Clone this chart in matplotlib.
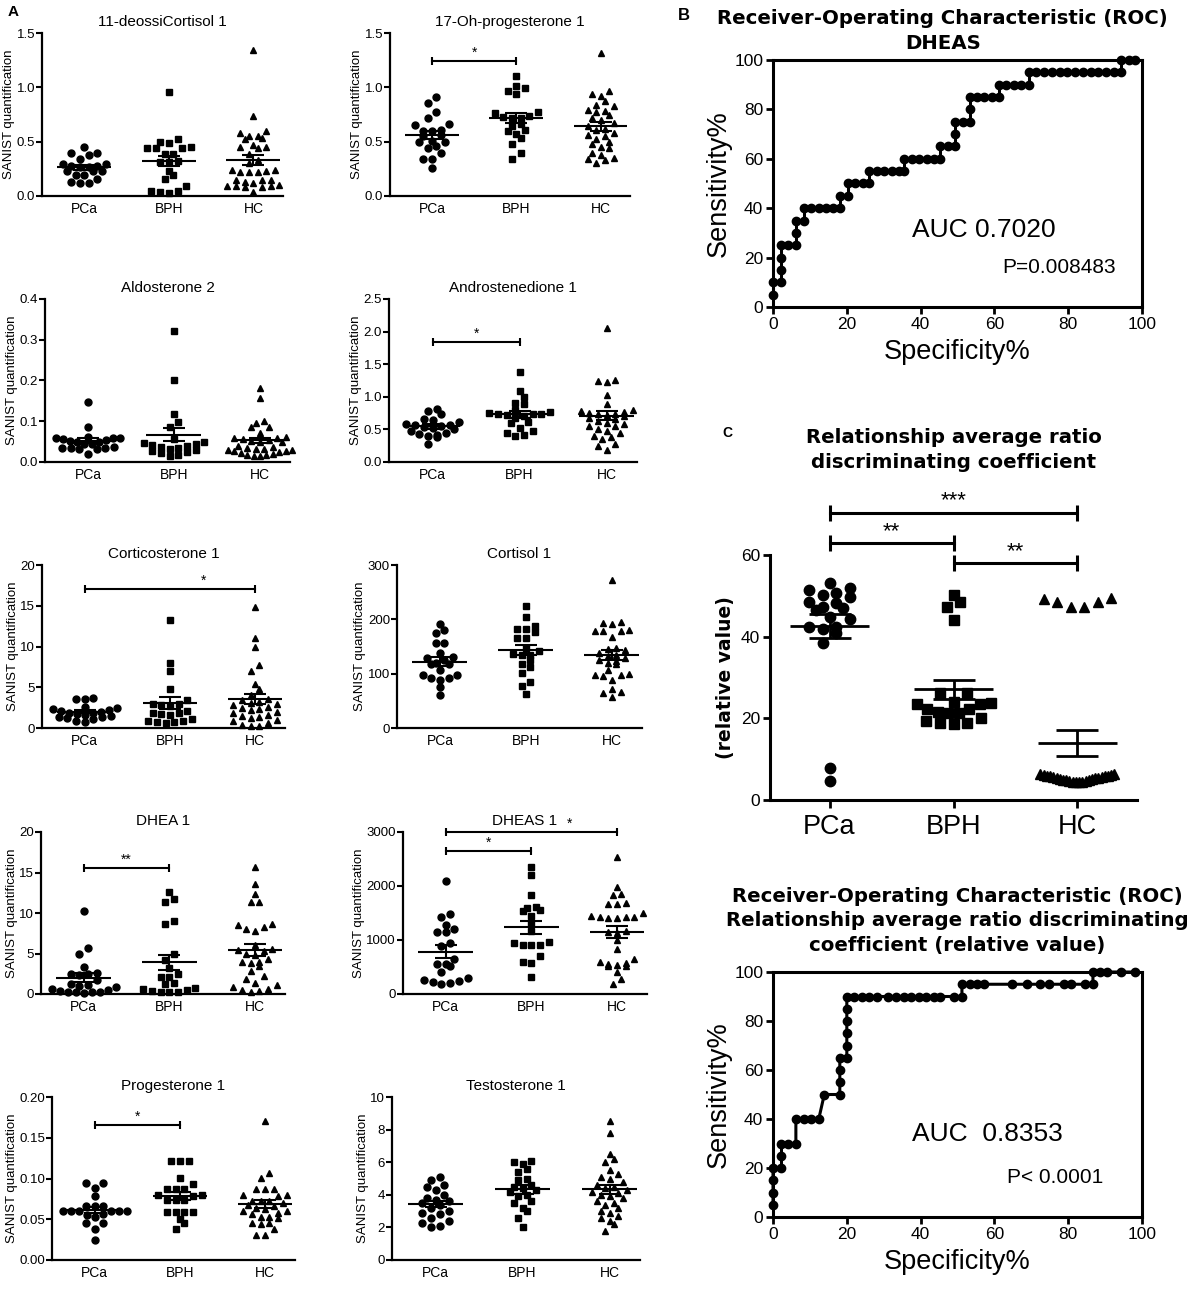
"""Steroid dot plots with ROC curves."""
import numpy as np
import matplotlib
matplotlib.use('Agg')
import matplotlib.pyplot as plt

plt.rcParams['font.family'] = ['Liberation Sans', 'DejaVu Sans']

W, H = 1199, 1290
groups = ['PCa', 'BPH', 'HC']
markers = ['o', 's', '^']

# ---- panel A values ----
deossi_pca = [0.45, 0.40, 0.40, 0.38, 0.34, 0.29, 0.28, 0.27, 0.27, 0.28, 0.29, 0.23, 0.23, 0.23, 0.19, 0.19, 0.16, 0.12, 0.12, 0.13]
deossi_bph = [0.96, 0.52, 0.50, 0.49, 0.45, 0.44, 0.44, 0.44, 0.39, 0.39, 0.32, 0.31, 0.31, 0.23, 0.19, 0.16, 0.09, 0.05, 0.05, 0.04, 0.03]
deossi_hc = [1.34, 0.74, 0.60, 0.58, 0.55, 0.55, 0.53, 0.52, 0.47, 0.45, 0.45, 0.44, 0.39, 0.33, 0.30, 0.24, 0.24, 0.23,
             0.22, 0.22, 0.22, 0.15, 0.15, 0.15, 0.13, 0.12, 0.10, 0.09, 0.09, 0.09, 0.08, 0.08, 0.04]

ohp_pca = [0.91, 0.86, 0.77, 0.72, 0.66, 0.65, 0.61, 0.60, 0.60, 0.56, 0.55, 0.51, 0.50, 0.50, 0.46, 0.44, 0.40, 0.34, 0.34, 0.26]
ohp_bph = [1.10, 1.01, 0.99, 0.97, 0.94, 0.77, 0.76, 0.74, 0.73, 0.72, 0.72, 0.66, 0.64, 0.61, 0.60, 0.57, 0.53, 0.48, 0.40, 0.34]
ohp_hc = [1.32, 0.97, 0.94, 0.92, 0.87, 0.84, 0.83, 0.79, 0.78, 0.77, 0.75, 0.72, 0.70, 0.67, 0.64, 0.62, 0.61, 0.58,
          0.56, 0.55, 0.52, 0.50, 0.48, 0.45, 0.44, 0.40, 0.38, 0.35, 0.34, 0.33, 0.30]

aldo_pca = [0.147, 0.086, 0.060, 0.058, 0.058, 0.062, 0.057, 0.055, 0.052, 0.050, 0.048, 0.045, 0.043, 0.036, 0.035,
            0.034, 0.034, 0.033, 0.032, 0.020]
aldo_bph = [0.322, 0.202, 0.117, 0.098, 0.086, 0.056, 0.050, 0.047, 0.045, 0.042, 0.040, 0.037, 0.035, 0.033, 0.030,
            0.028, 0.025, 0.022, 0.018, 0.015]
aldo_hc = [0.181, 0.158, 0.101, 0.095, 0.087, 0.085, 0.072, 0.062, 0.060, 0.058, 0.056, 0.054, 0.052, 0.050, 0.048,
           0.040, 0.036, 0.034, 0.033, 0.032, 0.030, 0.029, 0.028, 0.026, 0.024, 0.022, 0.020, 0.018, 0.016, 0.015, 0.014]

andro_pca = [0.82, 0.78, 0.73, 0.66, 0.65, 0.61, 0.58, 0.57, 0.56, 0.55, 0.53, 0.52, 0.50, 0.48, 0.45, 0.43, 0.41, 0.40, 0.38, 0.28]
andro_bph = [1.38, 1.09, 1.00, 0.91, 0.89, 0.80, 0.76, 0.75, 0.74, 0.74, 0.73, 0.72, 0.70, 0.68, 0.62, 0.60, 0.52,
             0.47, 0.45, 0.42, 0.40]
andro_hc = [2.06, 1.26, 1.24, 1.22, 1.02, 0.89, 0.80, 0.78, 0.77, 0.75, 0.74, 0.73, 0.72, 0.70, 0.68, 0.66, 0.63, 0.60,
            0.58, 0.55, 0.55, 0.50, 0.48, 0.45, 0.40, 0.38, 0.35, 0.28, 0.25, 0.18]

cortico_pca = [3.7, 3.6, 3.5, 2.6, 2.4, 2.3, 2.2, 2.1, 2.0, 1.9, 1.8, 1.7, 1.6, 1.5, 1.4, 1.3, 1.2, 1.1, 0.9, 0.7]
cortico_bph = [13.2, 8.0, 7.0, 4.8, 3.4, 3.0, 2.9, 2.8, 2.7, 2.1, 1.9, 1.8, 1.7, 1.6, 1.1, 0.9, 0.8, 0.7, 0.7, 0.6]
cortico_hc = [14.8, 11.0, 10.0, 7.7, 7.0, 5.4, 4.8, 4.0, 3.6, 3.4, 3.2, 3.1, 3.0, 2.8, 2.6, 2.5, 2.3, 2.2, 2.0, 1.8,
              1.6, 1.5, 1.4, 1.2, 1.0, 0.8, 0.6, 0.4, 0.3, 0.2]

cortisol_pca = [192, 180, 175, 157, 157, 138, 130, 128, 126, 120, 118, 117, 106, 98, 97, 92, 92, 88, 75, 60]
cortisol_bph = [224, 205, 188, 183, 182, 177, 166, 165, 148, 142, 137, 135, 135, 125, 117, 113, 102, 84, 77, 62]
cortisol_hc = [272, 195, 193, 192, 180, 179, 179, 178, 168, 147, 146, 143, 138, 135, 133, 128, 126, 124, 120, 118,
               107, 100, 98, 97, 96, 88, 72, 66, 64, 57]

dhea_pca = [10.2, 5.7, 5.0, 3.3, 2.6, 2.5, 2.5, 2.4, 1.7, 1.2, 1.1, 1.0, 0.9, 0.6, 0.5, 0.4, 0.3, 0.3, 0.2, 0.2, 0.1]
dhea_bph = [12.6, 11.7, 11.4, 9.0, 8.7, 5.0, 4.2, 3.2, 2.5, 2.1, 2.1, 1.4, 1.2, 0.8, 0.6, 0.5, 0.4, 0.3, 0.3, 0.2]
dhea_hc = [15.7, 13.6, 12.4, 11.4, 11.4, 8.6, 8.5, 8.3, 8.0, 7.8, 6.1, 5.6, 5.4, 5.3, 5.0, 4.8, 4.3, 4.0, 3.9, 3.8,
           3.4, 2.9, 2.2, 1.8, 1.4, 1.1, 0.9, 0.6, 0.5, 0.4, 0.3]

dheas_pca = [2100, 1490, 1420, 1280, 1210, 1150, 1150, 950, 880, 650, 560, 550, 510, 400, 300, 260, 250, 230, 200, 180]
dheas_bph = [2360, 2210, 1840, 1620, 1590, 1550, 1530, 1440, 1300, 1160, 960, 950, 910, 900, 900, 700, 600, 580, 320]
dheas_hc = [2530, 1980, 1850, 1840, 1680, 1670, 1660, 1500, 1440, 1430, 1420, 1420, 1410, 1400, 1160, 1150, 1130,
            1000, 840, 650, 600, 580, 560, 540, 520, 520, 410, 280, 180]

prog_pca = [0.095, 0.095, 0.088, 0.078, 0.066, 0.066, 0.066, 0.060, 0.060, 0.060, 0.060, 0.060, 0.060, 0.057, 0.055,
            0.053, 0.045, 0.045, 0.038, 0.024]
prog_bph = [0.121, 0.121, 0.121, 0.101, 0.093, 0.087, 0.087, 0.087, 0.080, 0.080, 0.079, 0.074, 0.074, 0.074, 0.059,
            0.059, 0.059, 0.059, 0.050, 0.046, 0.038]
prog_hc = [0.170, 0.107, 0.101, 0.087, 0.087, 0.087, 0.080, 0.080, 0.079, 0.073, 0.072, 0.072, 0.070, 0.068, 0.066,
           0.064, 0.063, 0.060, 0.060, 0.058, 0.056, 0.053, 0.053, 0.051, 0.046, 0.045, 0.044, 0.038, 0.031, 0.031]

testo_pca = [5.1, 4.9, 4.6, 4.5, 4.3, 4.0, 3.8, 3.7, 3.6, 3.5, 3.4, 3.2, 3.0, 2.9, 2.8, 2.6, 2.4, 2.3, 2.1, 2.0]
testo_bph = [6.1, 6.0, 5.9, 5.6, 5.4, 5.0, 4.9, 4.6, 4.5, 4.4, 4.3, 4.2, 4.0, 3.9, 3.6, 3.5, 3.2, 3.0, 2.6, 2.0]
testo_hc = [8.5, 7.8, 6.5, 6.2, 6.0, 5.5, 5.3, 5.1, 5.0, 4.8, 4.6, 4.5, 4.4, 4.3, 4.2, 4.1, 4.0, 3.9, 3.8, 3.6,
            3.5, 3.4, 3.2, 3.0, 2.9, 2.7, 2.6, 2.4, 2.2, 1.8]

# ---- panel C relative values ----
rel_pca = [51.8, 50.7, 51.4, 53.1, 49.7, 50.2, 48.2, 48.6, 46.5, 46.9, 47.3, 44.3, 44.7, 42.4, 42.4, 41.8, 40.8,
           38.4, 4.7, 7.8]
rel_bph = [50.2, 48.6, 47.3, 44.1, 24.1, 23.4, 26.1, 26.3, 22.4, 22.4, 23.4, 23.7, 21.4, 20.0, 18.8, 18.6, 18.8,
           19.4, 21.2, 21.6]
rel_hc = [49.4, 48.6, 47.3, 47.2, 48.6, 49.2, 6.4, 6.3, 6.2, 6.1, 6.0, 5.9, 5.8, 5.6, 5.4, 5.2, 5.0, 4.8, 4.6,
          4.4, 4.3, 4.3, 4.5, 4.7, 4.9, 5.1, 5.3, 5.5, 5.7, 6.0]

# ---- ROC curves ----
roc_dheas_x = [0, 0, 2.3, 2.3, 2.3, 2.3, 4.2, 6.2, 6.2, 6.2, 8.3, 8.3, 10.4, 12.4, 14.4, 16.3, 18.2, 18.2, 20.2,
               20.2, 22.3, 24.3, 26.1, 26.1, 28.2, 30.2, 32.2, 34.2, 35.6, 35.6, 37.7, 39.7, 41.7, 43.5, 45.3,
               45.3, 47.3, 49.4, 49.4, 49.4, 51.4, 53.3, 53.3, 53.3, 55.3, 57.3, 59.3, 61.2, 61.2, 63.2, 65.2,
               67.2, 69.3, 69.3, 71.4, 73.5, 75.6, 77.7, 79.8, 81.9, 84.0, 86.1, 88.2, 90.3, 92.3, 94.3, 94.3,
               96.4, 98.2]
roc_dheas_y = [5, 10, 10, 15, 20, 25, 25, 25, 30, 35, 35, 40, 40, 40, 40, 40, 40, 45, 45,
               50, 50, 50, 50, 55, 55, 55, 55, 55, 55, 60, 60, 60, 60, 60, 60,
               65, 65, 65, 70, 75, 75, 75, 80, 85, 85, 85, 85, 85, 90, 90, 90,
               90, 90, 95, 95, 95, 95, 95, 95, 95, 95, 95, 95, 95, 95, 95, 100,
               100, 100]
roc_rel_x = [0, 0, 0, 0, 2.3, 2.3, 2.3, 4.2, 6.2, 6.2, 8.3, 10.4, 12.4, 13.9, 18.1, 18.1, 18.1, 18.1, 20.0, 20.0,
             20.0, 20.0, 20.0, 20.0, 22.0, 24.1, 26.1, 28.2, 31.3, 33.3, 35.4, 37.4, 39.5, 41.5, 43.5, 45.3,
             49.0, 51.2, 51.2, 53.3, 55.3, 57.3, 64.8, 68.8, 72.4, 74.7, 78.8, 80.8, 84.6, 86.7, 86.7, 88.7,
             90.5, 94.3, 98.2]
roc_rel_y = [5, 10, 15, 20, 20, 25, 30, 30, 30, 40, 40, 40, 40, 50, 50, 55, 60, 65, 65, 70,
             75, 80, 85, 90, 90, 90, 90, 90, 90, 90, 90, 90, 90, 90, 90, 90,
             90, 90, 95, 95, 95, 95, 95, 95, 95, 95, 95, 95, 95, 95, 100, 100,
             100, 100, 100]

BOLD = ['DejaVu Sans']

fig = plt.figure(figsize=(W / 100, H / 100), dpi=100)


def add_ax(l, t, r, b):
    return fig.add_axes([l / W, 1 - b / H, (r - l) / W, (b - t) / H])


def spread(ax, vals, pos, ms_px, max_half_px, gap=1.25):
    # prism-like rows: similar values share a row, lowest in the middle
    vals = np.asarray(vals, dtype=float)
    x0, x1 = ax.get_xlim()
    y0, y1 = ax.get_ylim()
    kx = ax.bbox.width / (x1 - x0)
    ky = ax.bbox.height / (y1 - y0)
    order = np.argsort(vals, kind='stable')
    rows = []
    start = None
    for i in order:
        if start is None or (vals[i] - start) * ky > ms_px:
            rows.append([i])
            start = vals[i]
        else:
            rows[-1].append(i)
    xs = np.zeros(len(vals))
    for row in rows:
        n = len(row)
        step = ms_px * gap
        if n > 1 and (n - 1) * step > 2 * max_half_px:
            step = 2 * max_half_px / (n - 1)
        offs = (np.arange(n) - (n - 1) / 2) * step
        offs = offs[np.argsort(np.abs(offs), kind='stable')]
        for j, i in enumerate(row):
            xs[i] = pos + offs[j] / kx
    return xs


def dot_group(ax, vals, pos, marker, ms, half, cap, lw, max_half_px, gap=1.25):
    vals = np.asarray(vals, dtype=float)
    xs = spread(ax, vals, pos, ms * 100 / 72, max_half_px, gap)
    ax.plot(xs, vals, ls='none', marker=marker, ms=ms, color='black', clip_on=False, zorder=3)
    m = vals.mean()
    s = vals.std(ddof=1) / np.sqrt(len(vals))
    ax.hlines(m, pos - half, pos + half, color='black', lw=lw, zorder=4)
    ax.errorbar(pos, m, yerr=s, color='black', capsize=cap, elinewidth=lw, capthick=lw, zorder=4)


def bracket(ax, i0, i1, y, text, tx, ms, lw, fs):
    ax.plot([i0, i1], [y, y], color='black', lw=lw, marker='|', ms=ms, mew=lw, clip_on=False)
    ax.annotate(text, (tx, y), xytext=(0, 1), textcoords='offset points', ha='center', va='bottom',
                fontsize=fs, annotation_clip=False)


# ---- panel A ----
panels = [
    ('11-deossiCortisol 1', deossi_pca, deossi_bph, deossi_hc, [0, 0.5, 1.0, 1.5], ['0.0', '0.5', '1.0', '1.5'], []),
    ('17-Oh-progesterone 1', ohp_pca, ohp_bph, ohp_hc, [0, 0.5, 1.0, 1.5], ['0.0', '0.5', '1.0', '1.5'],
     [(0, 1, 1.245, '*', 0.5)]),
    ('Aldosterone 2', aldo_pca, aldo_bph, aldo_hc, [0, 0.1, 0.2, 0.3, 0.4], ['0.0', '0.1', '0.2', '0.3', '0.4'], []),
    ('Androstenedione 1', andro_pca, andro_bph, andro_hc, [0, 0.5, 1.0, 1.5, 2.0, 2.5],
     ['0.0', '0.5', '1.0', '1.5', '2.0', '2.5'], [(0, 1, 1.84, '*', 0.5)]),
    ('Corticosterone 1', cortico_pca, cortico_bph, cortico_hc, [0, 5, 10, 15, 20], ['0', '5', '10', '15', '20'],
     [(0, 2, 17.0, '*', 1.4)]),
    ('Cortisol 1', cortisol_pca, cortisol_bph, cortisol_hc, [0, 100, 200, 300], ['0', '100', '200', '300'], []),
    ('DHEA 1', dhea_pca, dhea_bph, dhea_hc, [0, 5, 10, 15, 20], ['0', '5', '10', '15', '20'],
     [(0, 1, 15.5, '**', 0.5)]),
    ('DHEAS 1', dheas_pca, dheas_bph, dheas_hc, [0, 1000, 2000, 3000], ['0', '1000', '2000', '3000'],
     [(0, 1, 2640, '*', 0.5), (0, 2, 3000, '*', 1.45)]),
    ('Progesterone 1', prog_pca, prog_bph, prog_hc, [0, 0.05, 0.10, 0.15, 0.20],
     ['0.00', '0.05', '0.10', '0.15', '0.20'], [(0, 1, 0.166, '*', 0.5)]),
    ('Testosterone 1', testo_pca, testo_bph, testo_hc, [0, 2, 4, 6, 8, 10], ['0', '2', '4', '6', '8', '10'], []),
]

boxes = [(42, 33, 283, 196), (390, 33, 630, 196),
         (45, 299, 290, 462), (389, 299, 637, 462),
         (42, 565, 285, 728), (397, 565, 642, 728),
         (41, 832, 285, 994), (403, 832, 647, 994),
         (52, 1097, 295, 1260), (392, 1097, 640, 1260)]

for (title, pca, bph, hc, yt, ytl, brs), box in zip(panels, boxes):
    ax = add_ax(*box)
    ax.set_xlim(-0.5, 2.35)
    ax.set_ylim(yt[0], yt[-1])
    for k, vals in enumerate([pca, bph, hc]):
        dot_group(ax, vals, k, markers[k], 5, 0.32, 8, 1.5, 32)
    for i0, i1, y, t, tx in brs:
        bracket(ax, i0, i1, y, t, tx, 6, 1.5, 10)
    ax.set_title(title, fontsize=11, pad=5)
    ax.set_yticks(yt)
    ax.set_yticklabels(ytl)
    ax.set_xticks(range(3))
    ax.set_xticklabels(groups)
    ax.set_ylabel('SANIST quantification', fontsize=9.5, labelpad=1)
    ax.tick_params(axis='y', length=4, width=1.5, labelsize=9.5, pad=1)
    ax.tick_params(axis='x', length=0, labelsize=10, pad=4)
    for sp in ['top', 'right']:
        ax.spines[sp].set_visible(False)
    for sp in ['left', 'bottom']:
        ax.spines[sp].set_linewidth(1.6)

fig.text(8 / W, 1 - 12 / H, 'A', fontsize=11, fontweight='bold', va='center')
fig.text(678 / W, 1 - 15 / H, 'B', fontsize=12, fontweight='bold', va='center')
fig.text(722 / W, 1 - 433 / H, 'C', fontsize=10, fontweight='bold', va='center')


def roc_axes(box, x, y, title, auc, ptxt, auc_xy, pad, tx=0.5):
    ax = add_ax(*box)
    ax.plot(x, y, '-o', color='black', lw=2.2, ms=6, clip_on=False, zorder=3)
    ax.set_xlim(0, 100)
    ax.set_ylim(0, 100)
    ax.set_xticks(range(0, 101, 20))
    ax.set_yticks(range(0, 101, 20))
    for sp in ax.spines.values():
        sp.set_linewidth(2.2)
    ax.tick_params(length=5, width=2, labelsize=12.5, pad=2)
    ax.set_xlabel('Specificity%', fontsize=19.5, labelpad=5)
    ax.set_ylabel('Sensitivity%', fontsize=19.5, labelpad=2)
    ax.set_title(title, fontsize=14.2, fontweight='bold', family=BOLD, pad=pad, linespacing=1.38, x=tx)
    ax.text(auc_xy[0], auc_xy[1], auc, fontsize=19, va='center')
    ax.text(auc_xy[2], auc_xy[3], ptxt, fontsize=15, va='center')
    return ax


roc_axes((773, 60, 1142, 307), roc_dheas_x, roc_dheas_y,
         'Receiver-Operating Characteristic (ROC)\nDHEAS', 'AUC 0.7020', 'P=0.008483', (37.7, 31, 62, 16), 8, 0.46)

# ---- panel C dot plot ----
axc = add_ax(770, 555, 1137, 800)
axc.set_xlim(-0.48, 2.48)
axc.set_ylim(0, 60)
for k, vals in enumerate([rel_pca, rel_bph, rel_hc]):
    dot_group(axc, vals, k, markers[k], 7.5, 0.32, 15, 2, 37, gap=1.3)
bracket(axc, 0, 2, 70.3, '***', 1.0, 12, 2.2, 16)
bracket(axc, 0, 1, 62.9, '**', 0.5, 12, 2.2, 16)
bracket(axc, 1, 2, 58.0, '**', 1.5, 12, 2.2, 16)
axc.set_yticks([0, 20, 40, 60])
axc.set_xticks(range(3))
axc.set_xticklabels(groups)
axc.tick_params(axis='y', length=5, width=2, labelsize=12.5, pad=2)
axc.tick_params(axis='x', length=6, width=2, labelsize=19.5, pad=4)
axc.set_ylabel('(relative value)', fontsize=13.5, fontweight='bold', family=BOLD)
axc.set_title('Relationship average ratio\ndiscriminating coefficient', fontsize=14.2, fontweight='bold',
              family=BOLD, pad=63, linespacing=1.38)
for sp in ['top', 'right']:
    axc.spines[sp].set_visible(False)
for sp in ['left', 'bottom']:
    axc.spines[sp].set_linewidth(2.2)

roc_axes((773, 972, 1142, 1217), roc_rel_x, roc_rel_y,
         'Receiver-Operating Characteristic (ROC)\nRelationship average ratio discriminating\n'
         'coefficient (relative value)', 'AUC  0.8353', 'P< 0.0001', (37.7, 34, 63.4, 16), 15)

fig.savefig('out.png', dpi=100)
